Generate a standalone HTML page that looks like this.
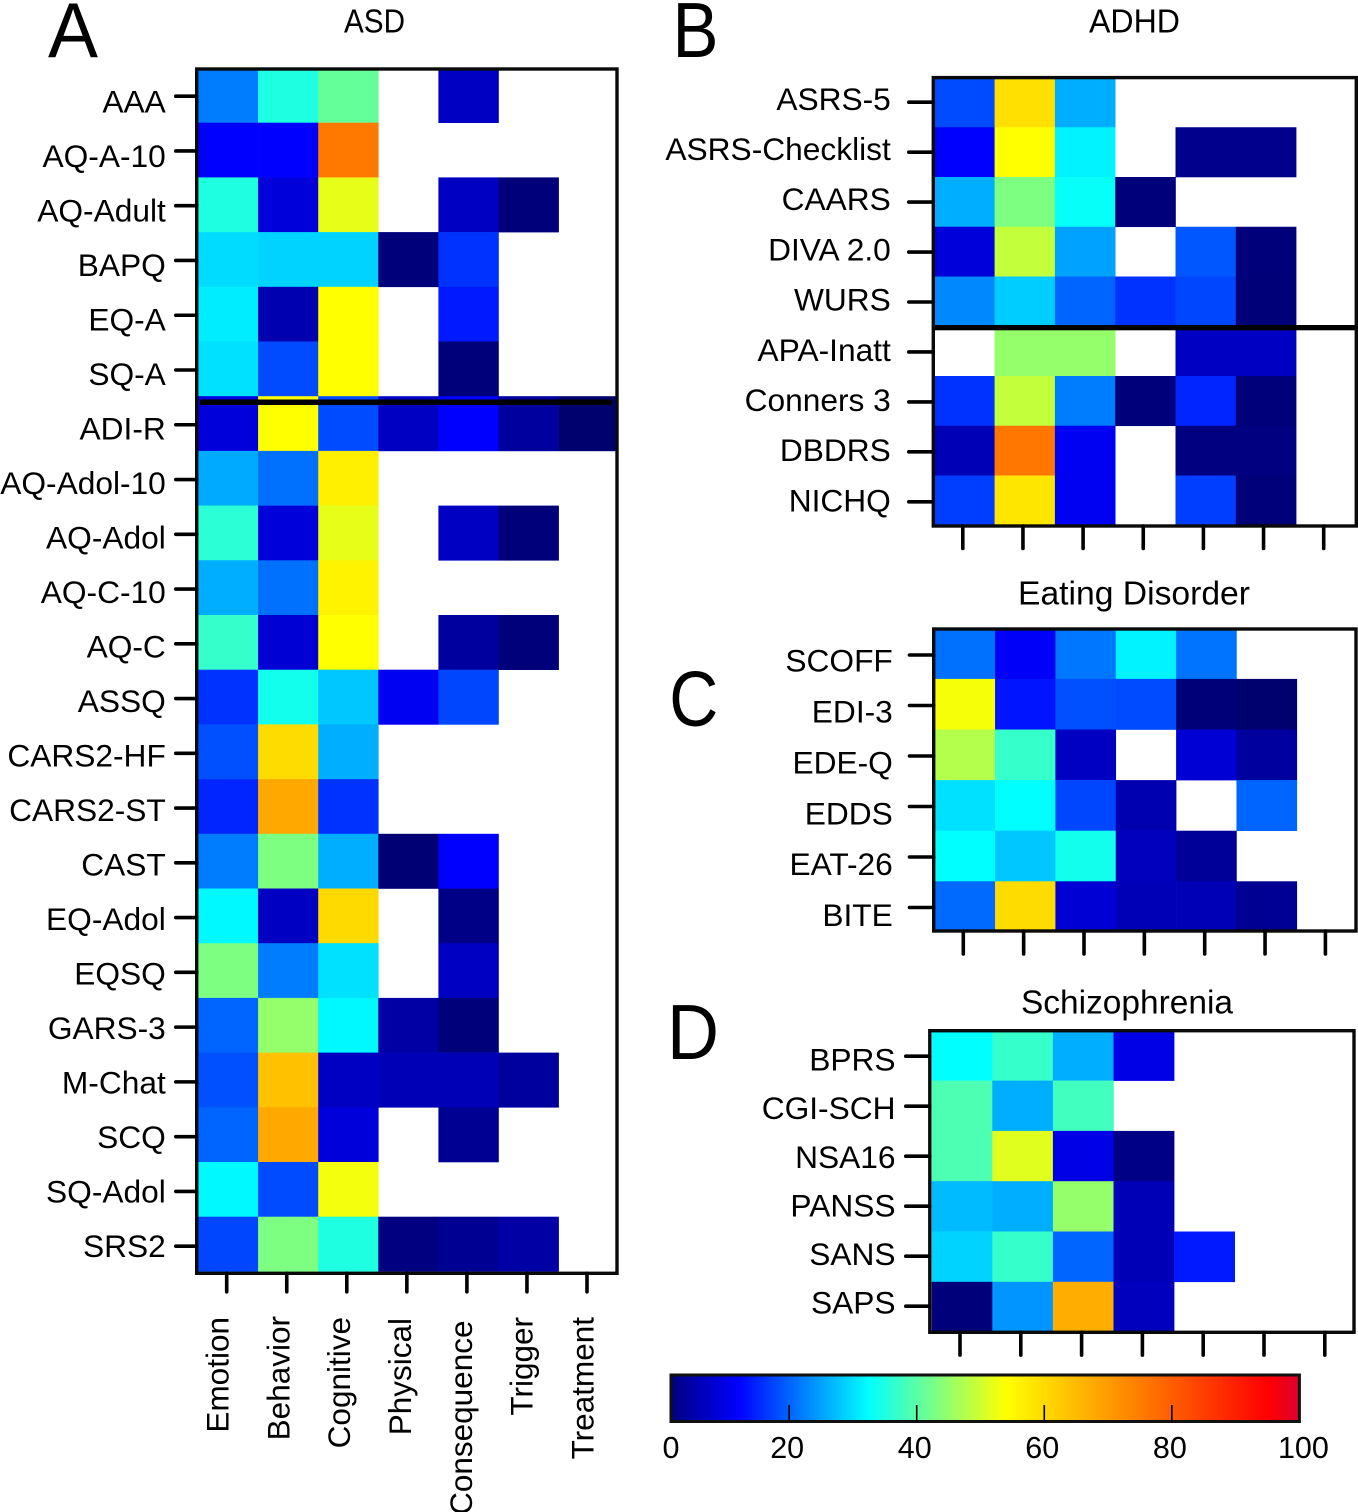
<!DOCTYPE html>
<html lang="en">
<head>
<meta charset="utf-8">
<title>Heatmaps of symptom domain coverage by instrument</title>
<style>
html,body{margin:0;padding:0;background:#fff;}
body{width:1358px;height:1512px;overflow:hidden;}
svg{display:block;}
text{font-family:"Liberation Sans",Arial,sans-serif;fill:#000;}
</style>
</head>
<body>
<svg id="chart" xmlns="http://www.w3.org/2000/svg" width="1358" height="1512" viewBox="0 0 1358 1512"></svg>
<script>
const categories = ["Emotion","Behavior","Cognitive","Physical","Consequence","Trigger","Treatment"];
const _ = null;

const asdLabels = ["AAA","AQ-A-10","AQ-Adult","BAPQ","EQ-A","SQ-A","ADI-R","AQ-Adol-10","AQ-Adol","AQ-C-10","AQ-C","ASSQ","CARS2-HF","CARS2-ST","CAST","EQ-Adol","EQSQ","GARS-3","M-Chat","SCQ","SQ-Adol","SRS2"];
const asdValues = [
  [22,35,41,_,7,_,_],
  [12,12,75.6,_,_,_,_],
  [35,9,52,_,7,1,_],
  [29.7,29,29,1,16,_,_],
  [31,5.5,54,_,14,_,_],
  [30,18,54,_,1,_,_],
  [9,54,18,7,12,4,0],
  [25.7,21,56.4,_,_,_,_],
  [36,9,52,_,7,1,_],
  [26,21,56,_,_,_,_],
  [37,8.5,54,_,4,1,_],
  [16,34,28,11,17.6,_,_],
  [18.4,59.6,26,_,_,_,_],
  [15,68,16,_,_,_,_],
  [22,43,26,0.5,12,_,_],
  [32,7,60,_,2,_,_],
  [43,22,30,_,7,_,_],
  [20,45,32,4.5,1,_,_],
  [18.4,64,7,6,6,4,_],
  [20,68,9,_,3,_,_],
  [32,18,53,_,_,_,_],
  [17.6,43,35,1.5,3,4.5,_]
];

const adhdLabels = ["ASRS-5","ASRS-Checklist","CAARS","DIVA 2.0","WURS","APA-Inatt","Conners 3","DBDRS","NICHQ"];
const adhdValues = [
  [18,59,26,_,_,_,_],
  [12,54,31.5,_,2.6,2.6,_],
  [26,43,33,1,_,_,_],
  [9,49,25,_,19,1,_],
  [23,28.5,20,16,17.6,0.9,_],
  [_,45,45,_,7,7,_],
  [16,49,22,1,15,1,_],
  [6,76,11,_,1.5,1.5,_],
  [17,58,11,_,17,1,_]
];

const edLabels = ["SCOFF","EDI-3","EDE-Q","EDDS","EAT-26","BITE"];
const edValues = [
  [21,11.4,21.6,31.5,21.3,_,_],
  [53.3,13.6,18.4,18,0.9,0,_],
  [47.7,37,7,_,8.5,4,_],
  [30,32.5,17.6,5.5,_,20,_],
  [32.5,28,34,6.5,3.5,_,_],
  [20.5,59.6,8.5,6,6,3,_]
];

const schLabels = ["BPRS","CGI-SCH","NSA16","PANSS","SANS","SAPS"];
const schValues = [
  [32.5,37,26,10,_,_,_],
  [39,26,38,_,_,_,_],
  [39,51.5,10,2,_,_,_],
  [27,26,45,6,_,_,_],
  [29,37,20,6,14,_,_],
  [1,24,67,6.5,_,_,_]
];

const colorbarTicks = [20,40,60,80];
const colorbarLabels = [0,20,40,60,80,100];

const svg = document.getElementById('chart');
const NS = 'http://www.w3.org/2000/svg';

function make(tag, attrs, parent) {
  const node = document.createElementNS(NS, tag);
  for (const k in attrs) node.setAttribute(k, attrs[k]);
  (parent || svg).appendChild(node);
  return node;
}
function slug(s) { return s.toLowerCase().replace(/[^a-z0-9]+/g, '-'); }

/* colour scale: jet-like ramp matching the reference colour bar */
const rampV = [0, 12, 32.5, 54, 95, 100];
const rampC = [[0,0,110],[0,0,255],[0,255,255],[255,255,0],[255,0,0],[220,0,45]];
function colorOf(v) {
  let i = 0;
  while (i < rampV.length - 2 && v > rampV[i + 1]) i++;
  const t = Math.max(0, Math.min(1, (v - rampV[i]) / (rampV[i + 1] - rampV[i])));
  const a = rampC[i], b = rampC[i + 1];
  return 'rgb(' + [0,1,2].map(function (k) { return Math.round(a[k] + (b[k] - a[k]) * t); }).join(',') + ')';
}

const defs = make('defs', {});

function drawPanel(p) {
  const g = make('g', {});
  
  
  const xBand = function (i) { return p.x0 + i * p.cw; };
  const yBand = function (i) { return p.y0 + i * p.rh; };

  const clip = make('clipPath', { id: 'clip-' + p.name }, defs);
  make('rect', { x: p.fx, y: p.fy, width: p.fw, height: p.fh }, clip);
  const cells = make('g', { 'clip-path': 'url(#clip-' + p.name + ')' }, g);
  
  

  p.values.forEach(function (row, r) {
    row.forEach(function (v, c) {
      if (v === null) return;
      const cell = make('rect', {
        x: xBand(c), y: yBand(r), width: p.cw + 0.3, height: p.rh + 0.3, fill: colorOf(v)
      }, cells);
      
      
    });
  });

  if (p.sep) {
    const sep = make('rect', { x: p.sep.x, y: p.sep.y, width: p.sep.w, height: p.sep.h, fill: '#000' }, g);
    
    
  }

  const frame = make('rect', {
    x: p.fx, y: p.fy, width: p.fw, height: p.fh, fill: 'none', stroke: '#0a0a0a', 'stroke-width': 3.4
  }, g);
  
  

  p.labels.forEach(function (lab, r) {
    const ty = p.tickY0 + r * p.tickYStep;
    const tick = make('line', {
      x1: p.tickX1, x2: p.fx, y1: ty, y2: ty, stroke: '#000', 'stroke-width': 3.6, 'stroke-linecap': 'round'
    }, g);
    
    
    const t = make('text', {
      x: p.labelX, y: p.labelY0 + r * p.labelStep, 'text-anchor': 'end', 'font-size': 31.7
    }, g);
    t.textContent = lab;
    
    
  });

  categories.forEach(function (cat, c) {
    const tx = p.tickXStart + c * p.tickXStep;
    const tick = make('line', {
      x1: tx, x2: tx, y1: p.fy + p.fh, y2: p.fy + p.fh + p.tickLen, stroke: '#000', 'stroke-width': 3.6, 'stroke-linecap': 'round'
    }, g);
    
    
    if (p.showX) {
      const bx = p.catX0 + c * p.catStep;
      const by = p.catY[c];
      const t = make('text', {
        x: 0, y: 0, 'text-anchor': 'end', 'font-size': 31.5,
        transform: 'translate(' + bx + ',' + by + ') rotate(-90)'
      }, g);
      t.textContent = cat;
      
      
    }
  });

  const title = make('text', {
    x: p.titleX, y: p.titleY, 'text-anchor': 'middle', 'font-size': 33,
    textLength: p.titleW, lengthAdjust: 'spacingAndGlyphs'
  }, g);
  title.textContent = p.title;
  
  

  const letter = make('text', {
    x: p.letterX, y: p.letterY, 'font-size': 78,
    textLength: p.letterW, lengthAdjust: 'spacingAndGlyphs'
  }, g);
  letter.textContent = p.letter;
  
  
}

drawPanel({
  name:'asd', title:'ASD', letter:'A', labels:asdLabels, values:asdValues,
  x0:198, y0:68, cw:60.1, rh:54.7,
  fx:196.7, fy:69, fw:420.3, fh:1204.3,
  sep:{x:200,y:399.5,w:412,h:5.5},
  tickX1:175.8, tickY0:96.2, tickYStep:54.76,
  labelX:165.8, labelY0:112.5, labelStep:54.5,
  tickXStart:226.7, tickXStep:60.05, tickLen:18.5,
  showX:true, catX0:228.6, catStep:60.8,
  catY:[1317,1316,1317,1318,1320.5,1317,1317],
  titleX:374.5, titleY:32.7, titleW:61,
  letterX:48, letterY:57, letterW:50
});
drawPanel({
  name:'adhd', title:'ADHD', letter:'B', labels:adhdLabels, values:adhdValues,
  x0:934.3, y0:77.5, cw:60.3, rh:49.75,
  fx:933.3, fy:77.6, fw:423, fh:448.4,
  sep:{x:934,y:325,w:422,h:5.3},
  tickX1:908.8, tickY0:102.2, tickYStep:49.95,
  labelX:890.8, labelY0:109.8, labelStep:50.2,
  tickXStart:962.8, tickXStep:60.15, tickLen:22.5,
  titleX:1134.5, titleY:32.7, titleW:91,
  letterX:672.5, letterY:57, letterW:46
});
drawPanel({
  name:'eating-disorder', title:'Eating Disorder', letter:'C', labels:edLabels, values:edValues,
  x0:934.7, y0:628.3, cw:60.35, rh:50.6,
  fx:933.7, fy:629, fw:422.3, fh:302,
  tickX1:909.5, tickY0:655, tickYStep:50.5,
  labelX:892.8, labelY0:671.7, labelStep:50.85,
  tickXStart:963.3, tickXStep:60.35, tickLen:23,
  titleX:1134, titleY:604.5, titleW:232,
  letterX:669.3, letterY:725.5, letterW:49
});
drawPanel({
  name:'schizophrenia', title:'Schizophrenia', letter:'D', labels:schLabels, values:schValues,
  x0:931.7, y0:1030.3, cw:60.6, rh:50.3,
  fx:929.8, fy:1030.7, fw:424.2, fh:301.6,
  tickX1:905.8, tickY0:1056.2, tickYStep:50,
  labelX:895.5, labelY0:1070.6, labelStep:48.6,
  tickXStart:960, tickXStep:60.8, tickLen:22.8,
  titleX:1127, titleY:1013.3, titleW:212,
  letterX:667, letterY:1059, letterW:52
});

/* colour bar */
const cbLeft = 671, cbRight = 1299.4, cbTop = 1375, cbBottom = 1421.5;
const cbX = function (v) { return 661.6 + 6.378 * v; };
const cbDomainStart = (cbLeft - 661.6) / 6.378;

const grad = make('linearGradient', { id: 'jet-gradient', x1: '0', x2: '1', y1: '0', y2: '0' }, defs);
for (let v = cbDomainStart; v <= 100; v += 1) {
  make('stop', { offset: (cbX(v) - cbLeft) / (cbRight - cbLeft), 'stop-color': colorOf(v) }, grad);
}

const cbGroup = make('g', {});



const cbRect = make('rect', {
  x: cbLeft, y: cbTop, width: cbRight - cbLeft, height: cbBottom - cbTop,
  fill: 'url(#jet-gradient)', stroke: '#111', 'stroke-width': 3
}, cbGroup);



colorbarTicks.forEach(function (v) {
  const tick = make('line', {
    x1: cbX(v), x2: cbX(v), y1: 1405, y2: cbBottom, stroke: '#000', 'stroke-width': 1.6
  }, cbGroup);
  
  
});

colorbarLabels.forEach(function (v) {
  const lx = v === colorbarLabels[0] ? cbLeft : (v === colorbarLabels[colorbarLabels.length - 1] ? cbRight + 4 : cbX(v) - 2);
  const t = make('text', { x: lx, y: 1458, 'text-anchor': 'middle', 'font-size': 30.5 }, cbGroup);
  t.textContent = String(v);
  
  
});
</script>
</body>
</html>
